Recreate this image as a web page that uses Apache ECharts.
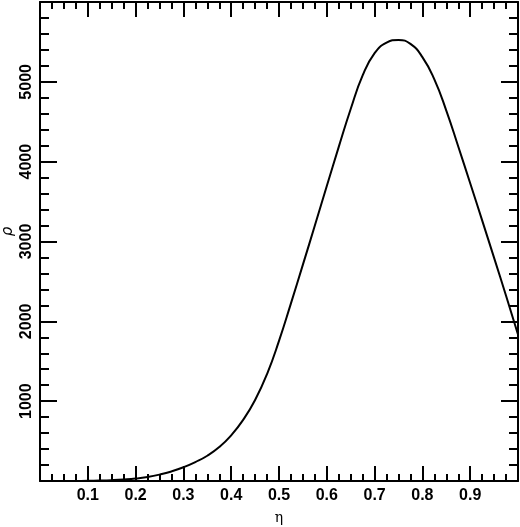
<!DOCTYPE html>
<html>
<head>
<meta charset="utf-8">
<script src="https://cdn.jsdelivr.net/npm/echarts@6/dist/echarts.min.js"></script>
<style>
	html, body { margin: 0; padding: 0; background: #fff; }
	#chart { width: 520px; height: 527px; }
</style>
</head>
<body>
<div id="chart"></div>
<script>
// eta values, every 0.025
var etaValues = [0, 0.025, 0.05, 0.075, 0.1, 0.125, 0.15, 0.175, 0.2, 0.225,
	0.25, 0.275, 0.3, 0.325, 0.35, 0.375, 0.4, 0.425, 0.45, 0.475,
	0.5, 0.525, 0.55, 0.575, 0.6, 0.625, 0.65, 0.675, 0.7, 0.725,
	0.75, 0.775, 0.8, 0.825, 0.85, 0.875, 0.9, 0.925, 0.95, 0.975, 1.0];
// rho
var rhoValues = [0, 0, 0, 1, 2, 5, 10, 18, 30, 50,
	80, 120, 172, 237, 316, 425, 572, 765, 1015, 1340,
	1755, 2225, 2710, 3200, 3695, 4185, 4660, 5080, 5360, 5490,
	5525, 5475, 5310, 5030, 4640, 4190, 3730, 3265, 2795, 2320, 1835];

var xTicks = [0, 1, 0.1];
var yTicks = [0, 6000, 1000];

var lineData = [];
for(var i = 0; i < etaValues.length; i++) {
	lineData.push([etaValues[i], rhoValues[i]]);
}

var labelFont = {
	fontFamily: 'Liberation Sans',
	fontWeight: 'bold',
	fontSize: 16,
	color: '#000'
};

function xAxisBase(pos) {
	return {
		type: 'value',
		position: pos,
		min: xTicks[0],
		max: xTicks[1],
		interval: xTicks[2],
		axisLine: { show: true, onZero: false, lineStyle: { color: '#000', width: 2 } },
		axisTick: { show: true, inside: true, length: 15, lineStyle: { color: '#000', width: 2 } },
		minorTick: { show: true, splitNumber: 4, length: 7, lineStyle: { color: '#000', width: 2 } },
		splitLine: { show: false },
		axisLabel: { show: false }
	};
}

function yAxisBase(pos) {
	return {
		type: 'value',
		position: pos,
		min: yTicks[0],
		max: yTicks[1],
		interval: yTicks[2],
		axisLine: { show: true, onZero: false, lineStyle: { color: '#000', width: 2 } },
		axisTick: { show: true, inside: true, length: 17, lineStyle: { color: '#000', width: 2 } },
		minorTick: { show: true, splitNumber: 5, length: 9, lineStyle: { color: '#000', width: 2 } },
		splitLine: { show: false },
		axisLabel: { show: false }
	};
}

var bottomAxis = xAxisBase('bottom');
bottomAxis.axisLabel = Object.assign({
	show: true,
	margin: 7,
	showMinLabel: false,
	showMaxLabel: false,
	formatter: function(v) { return v.toFixed(1); }
}, labelFont);
bottomAxis.name = 'η';
bottomAxis.nameLocation = 'middle';
bottomAxis.nameGap = 30;
bottomAxis.nameMoveOverlap = false;
bottomAxis.nameTextStyle = { fontFamily: 'DejaVu Serif', fontSize: 14, color: '#000' };

var leftAxis = yAxisBase('left');
leftAxis.axisLabel = Object.assign({
	show: true,
	rotate: 90,
	margin: 5,
	showMinLabel: false,
	showMaxLabel: false,
	formatter: function(v) { return String(v); }
}, labelFont);
leftAxis.name = 'ρ';
leftAxis.nameLocation = 'middle';
leftAxis.nameRotate = 90;
leftAxis.nameGap = 24;
leftAxis.nameMoveOverlap = false;
leftAxis.nameTextStyle = {
	fontFamily: 'DejaVu Sans',
	fontStyle: 'italic',
	fontSize: 15,
	color: '#000',
	padding: [0, 0, 0, 20]
};

var myChart = echarts.init(document.getElementById('chart'));
var option = {
	animation: false,
	backgroundColor: '#fff',
	grid: {
		left: 40,
		right: 2,
		top: 2,
		bottom: 46,
		containLabel: false,
		outerBoundsMode: 'none'
	},
	xAxis: [bottomAxis, xAxisBase('top')],
	yAxis: [leftAxis, yAxisBase('right')],
	series: [{
		type: 'line',
		xAxisIndex: 0,
		yAxisIndex: 0,
		data: lineData,
		smooth: 0.5,
		showSymbol: false,
		symbol: 'none',
		lineStyle: { color: '#000', width: 2 }
	}]
};
myChart.setOption(option);
</script>
</body>
</html>
